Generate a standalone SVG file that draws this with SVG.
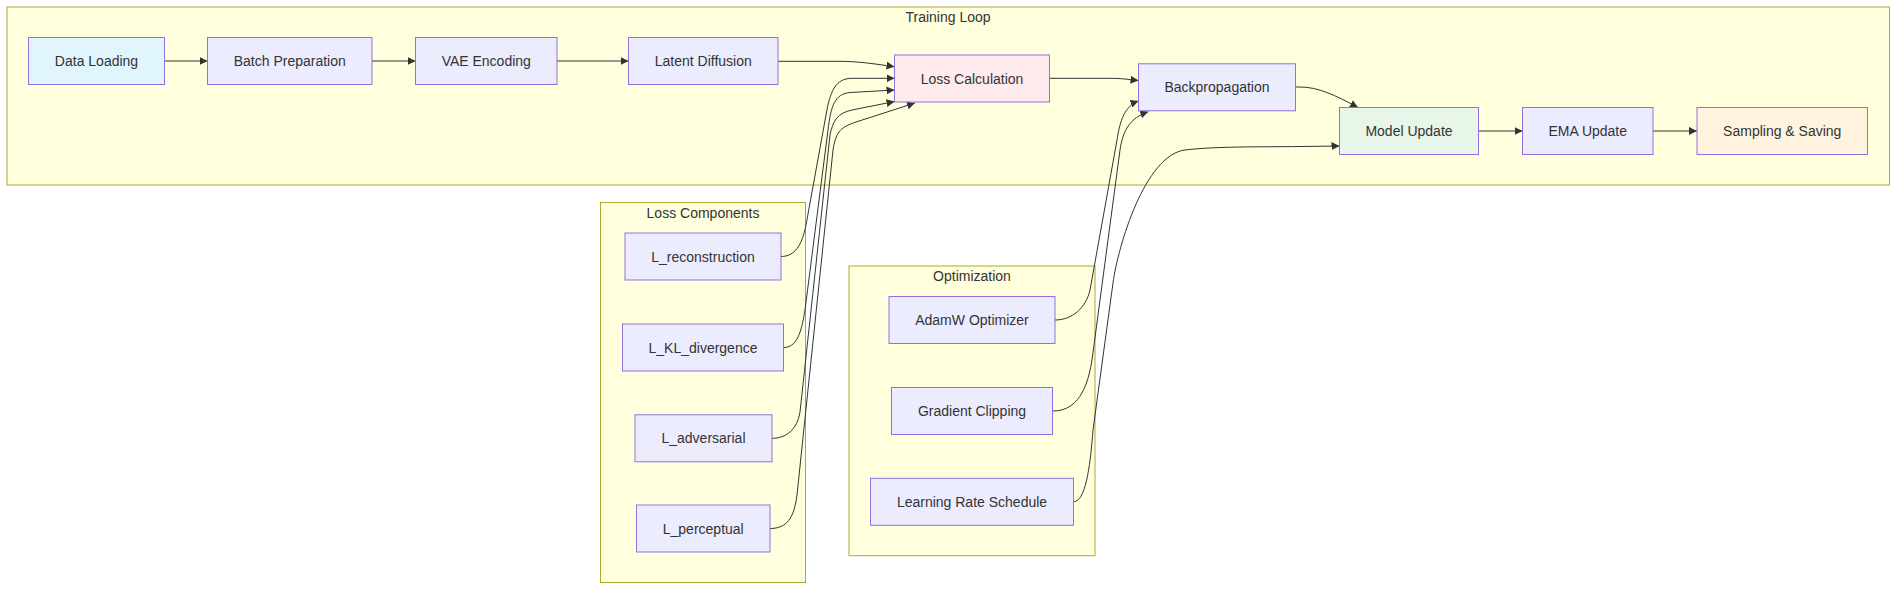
<svg xmlns="http://www.w3.org/2000/svg" width="1904" height="593" viewBox="0 0 1904 593">
<style>
.cluster{fill:#ffffde;stroke:#aaaa33;stroke-width:1}
.node{stroke:#9370db;stroke-width:1}
.def{fill:#ececff}
.lbl{font-family:"Liberation Sans",Arial,sans-serif;font-size:14px;fill:#333;text-anchor:middle;dominant-baseline:central}
.edge{fill:none;stroke:#333;stroke-width:1}
</style>
<defs>
<marker id="arr" viewBox="0 0 10 10" refX="10" refY="5" markerWidth="8" markerHeight="8" markerUnits="userSpaceOnUse" orient="auto">
<path d="M0,0 L10,5 L0,10 z" fill="#333"/>
</marker>
</defs>
<rect width="1904" height="593" fill="#ffffff"/>
<g id="clusters">
<g id="training-loop"><rect class="cluster" x="7" y="7" width="1882.5" height="178"/><text class="lbl" x="948" y="17">Training Loop</text></g>
<g id="loss-components"><rect class="cluster" x="600.5" y="202.5" width="205" height="380"/><text class="lbl" x="703" y="212.5">Loss Components</text></g>
<g id="optimization"><rect class="cluster" x="849" y="266" width="246" height="289.7"/><text class="lbl" x="972" y="276">Optimization</text></g>
</g>
<g id="connectors">
<path class="edge" d="M164.5,61 L207.5,61" marker-end="url(#arr)"/>
<path class="edge" d="M372,61 L415.5,61" marker-end="url(#arr)"/>
<path class="edge" d="M557,61 L628.5,61" marker-end="url(#arr)"/>
<path class="edge" d="M778,61.3 L838,61.3 C858,61.3 872,63.5 894.5,66.7" marker-end="url(#arr)"/>
<path class="edge" d="M1049.5,78.3 L1110,78.3 C1122,78.3 1128,79.5 1138.5,80.5" marker-end="url(#arr)"/>
<path class="edge" d="M1295.5,87 L1300,87 C1318,87 1335,95 1358,107.5" marker-end="url(#arr)"/>
<path class="edge" d="M1478.5,131 L1522.5,131" marker-end="url(#arr)"/>
<path class="edge" d="M1653,131 L1697,131" marker-end="url(#arr)"/>
<path class="edge" d="M781,256.5 C795,256.5 802,245 806,225 L826,115 C830,92 835,78.3 852,78.3 L894.5,78.3" marker-end="url(#arr)"/>
<path class="edge" d="M783.5,347.5 C796,347.5 801,335 805,310 L828,130 C831,105 835,94 850,92.5 L894.5,90" marker-end="url(#arr)"/>
<path class="edge" d="M772,438.3 C786,438.3 797,430 800,412 L830,135 C833,120 838,113 852,110 L894.5,101.5" marker-end="url(#arr)"/>
<path class="edge" d="M770,528.5 C787,528.5 794,518 797,495 L833,150 C836,130 842,127 856,122 L915,103" marker-end="url(#arr)"/>
<path class="edge" d="M1055,320 C1072,320 1086,308 1090,290 L1117,140 C1120,120 1125,106 1138.5,101" marker-end="url(#arr)"/>
<path class="edge" d="M1052.5,411 C1072,411 1086,398 1092,360 L1120,150 C1123,130 1130,118 1148.3,111.7" marker-end="url(#arr)"/>
<path class="edge" d="M1073.5,501.8 C1085,501.8 1090,470 1093,430 L1113,283 C1118,246 1145,155 1185,150 C1215,146.3 1260,147 1300,146.5 L1339.5,146" marker-end="url(#arr)"/>
</g>
<g id="n-data-loading"><rect class="node" fill="#e1f5fe" x="28.5" y="37.5" width="136" height="47"/><text class="lbl" x="96.5" y="61">Data Loading</text></g>
<g id="n-batch-prep"><rect class="node def" x="207.5" y="37.5" width="164.5" height="47"/><text class="lbl" x="289.75" y="61">Batch Preparation</text></g>
<g id="n-vae"><rect class="node def" x="415.5" y="37.5" width="141.5" height="47"/><text class="lbl" x="486.25" y="61">VAE Encoding</text></g>
<g id="n-latent"><rect class="node def" x="628.5" y="37.5" width="149.5" height="47"/><text class="lbl" x="703.25" y="61">Latent Diffusion</text></g>
<g id="n-loss"><rect class="node" fill="#ffebee" x="894.5" y="55" width="155" height="47"/><text class="lbl" x="972" y="78.5">Loss Calculation</text></g>
<g id="n-backprop"><rect class="node def" x="1138.5" y="63.8" width="157" height="47"/><text class="lbl" x="1217" y="87.3">Backpropagation</text></g>
<g id="n-model-update"><rect class="node" fill="#e8f5e9" x="1339.5" y="107.5" width="139" height="47"/><text class="lbl" x="1409" y="131">Model Update</text></g>
<g id="n-ema"><rect class="node def" x="1522.5" y="107.5" width="130.5" height="47"/><text class="lbl" x="1587.75" y="131">EMA Update</text></g>
<g id="n-sampling"><rect class="node" fill="#fff3e0" x="1697" y="107.5" width="170.5" height="47"/><text class="lbl" x="1782.25" y="131">Sampling &amp; Saving</text></g>
<g id="n-l-recon"><rect class="node def" x="625" y="233" width="156" height="47"/><text class="lbl" x="703" y="256.5">L_reconstruction</text></g>
<g id="n-l-kl"><rect class="node def" x="622.5" y="324" width="161" height="47"/><text class="lbl" x="703" y="347.5">L_KL_divergence</text></g>
<g id="n-l-adv"><rect class="node def" x="635" y="414.8" width="137" height="47"/><text class="lbl" x="703.5" y="438.3">L_adversarial</text></g>
<g id="n-l-perc"><rect class="node def" x="636.5" y="505" width="133.5" height="47"/><text class="lbl" x="703.25" y="528.5">L_perceptual</text></g>
<g id="n-adamw"><rect class="node def" x="889" y="296.5" width="166" height="47"/><text class="lbl" x="972" y="320">AdamW Optimizer</text></g>
<g id="n-gradclip"><rect class="node def" x="891.5" y="387.5" width="161" height="47"/><text class="lbl" x="972" y="411">Gradient Clipping</text></g>
<g id="n-lr"><rect class="node def" x="870.5" y="478.3" width="203" height="47"/><text class="lbl" x="972" y="501.8">Learning Rate Schedule</text></g>
</svg>
